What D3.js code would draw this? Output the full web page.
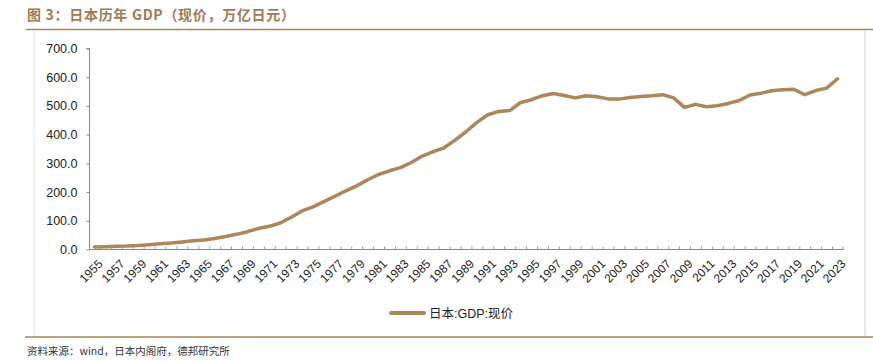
<!DOCTYPE html>
<html>
<head>
<meta charset="utf-8">
<script src="https://cdn.jsdelivr.net/npm/d3@7"></script>
<style>
  body { margin: 0; background: #fff; }
  svg { display: block; font-family: "Liberation Sans", Arial, "Noto Sans CJK SC", sans-serif; }
</style>
</head>
<body>
<div id="chart"></div>
<script>
// years and nominal GDP (trillion yen)
const years = d3.range(1955, 2024);
const gdp = [
  8.6, 9.9, 11.4, 12.1, 13.9, 16.7, 20.2, 22.3, 26.2, 30.4,
  33.0, 38.5, 45.0, 52.8, 62.0, 73.3, 80.7, 92.4, 112.5, 134.2,
  148.3, 166.6, 185.6, 204.4, 221.5, 242.8, 261.1, 274.1, 285.1, 302.9,
  325.4, 340.6, 354.2, 380.7, 410.1, 442.8, 469.4, 480.8, 483.7, 511.9,
  521.6, 535.6, 543.5, 536.5, 528.0, 535.4, 531.7, 524.5, 523.7, 529.4,
  532.5, 535.2, 539.3, 527.8, 494.9, 505.5, 497.4, 500.5, 508.7, 518.8,
  538.0, 544.4, 553.1, 556.6, 557.9, 539.1, 553.6, 561.9, 594.5
];
const yTicks = [0, 100, 200, 300, 400, 500, 600, 700];
const seriesName = "日本:GDP:现价";
const title = "图 3：日本历年 GDP（现价，万亿日元）";
const source = "资料来源：wind，日本内阁府，德邦研究所";

const WIDTH = 873, HEIGHT = 362;
const BROWN = "#a98659";
const LINE = "#ab875a";

const data = years.map((y, i) => ({ year: y, value: gdp[i] }));

const svg = d3.select("#chart").append("svg")
  .attr("width", WIDTH)
  .attr("height", HEIGHT);

// title + rules
svg.append("text")
  .attr("x", 27).attr("y", 20)
  .attr("fill", "#a07b55")
  .attr("font-size", 14)
  .attr("font-weight", "bold")
  .attr("letter-spacing", 0.7)
  .attr("font-family", "'Noto Sans CJK SC', 'Liberation Sans', sans-serif")
  .text(title);

svg.append("line")
  .attr("x1", 26).attr("x2", WIDTH).attr("y1", 29.5).attr("y2", 29.5)
  .attr("stroke", BROWN).attr("stroke-width", 1.5);

svg.append("line")
  .attr("x1", 25).attr("x2", WIDTH).attr("y1", 337).attr("y2", 337)
  .attr("stroke", BROWN).attr("stroke-width", 1.5);

// light frame
svg.append("line").attr("x1", 34).attr("x2", 34).attr("y1", 31).attr("y2", 336)
  .attr("stroke", "#e4e4e4").attr("stroke-width", 1);
svg.append("line").attr("x1", 865).attr("x2", 865).attr("y1", 31).attr("y2", 336)
  .attr("stroke", "#e8e8e8").attr("stroke-width", 2);

svg.append("text")
  .attr("x", 27).attr("y", 355)
  .attr("fill", "#333")
  .attr("font-size", 10.5)
  .attr("font-family", "'Noto Sans CJK SC', 'Liberation Sans', sans-serif")
  .text(source);

// scales
const xScale = d3.scaleBand()
  .domain(years)
  .range([89, 843]);

const yScale = d3.scaleLinear()
  .domain([0, 700])
  .range([249.5, 48.5]);

const xc = d => xScale(d) + xScale.bandwidth() / 2;

// y axis
const yAxis = svg.append("g")
  .attr("transform", "translate(89.5,0)")
  .call(d3.axisLeft(yScale).tickValues(yTicks).tickFormat(d3.format(".1f")).tickSize(3).tickPadding(9));
yAxis.select(".domain").attr("stroke", "#888").attr("d", `M-3,${yScale(700)}H0V${yScale(0)}`);
yAxis.selectAll(".tick line").attr("stroke", "#888");
yAxis.selectAll(".tick text").attr("font-size", 12.5).attr("fill", "#222")
  .attr("font-family", "'Liberation Sans', Arial, sans-serif");

// x axis: ticks between categories, pointing up
const xAxis = svg.append("g").attr("transform", "translate(0,249.5)");
xAxis.append("line")
  .attr("x1", 89).attr("x2", 843.5)
  .attr("stroke", "#888");
xAxis.selectAll("line.tk")
  .data(years.concat([2024]))
  .join("line")
  .attr("class", "tk")
  .attr("x1", d => d === 2024 ? 843 : xScale(d) + 0.5)
  .attr("x2", d => d === 2024 ? 843 : xScale(d) + 0.5)
  .attr("y1", 0).attr("y2", -3)
  .attr("stroke", "#999");
xAxis.selectAll("text")
  .data(years.filter((y, i) => i % 2 === 0))
  .join("text")
  .attr("transform", d => `translate(${xc(d) + 3},${9}) rotate(-45)`)
  .attr("text-anchor", "end")
  .attr("dy", "0.71em")
  .attr("font-size", 12)
  .attr("fill", "#222")
  .attr("font-family", "'Liberation Sans', Arial, sans-serif")
  .text(d => d);

// line
const line = d3.line()
  .x(d => xc(d.year))
  .y(d => yScale(d.value));

svg.append("path")
  .datum(data)
  .attr("d", line)
  .attr("fill", "none")
  .attr("stroke", LINE)
  .attr("stroke-width", 3.5)
  .attr("stroke-linejoin", "round")
  .attr("stroke-linecap", "round");

// legend
svg.append("line")
  .attr("x1", 391).attr("x2", 424).attr("y1", 313).attr("y2", 313)
  .attr("stroke", LINE).attr("stroke-width", 4).attr("stroke-linecap", "round");
svg.append("text")
  .attr("x", 429).attr("y", 317.5)
  .attr("font-size", 12.5)
  .attr("fill", "#222")
  .attr("font-family", "'Liberation Sans', Arial, 'Noto Sans CJK SC', sans-serif")
  .text(seriesName);
</script>
</body>
</html>
